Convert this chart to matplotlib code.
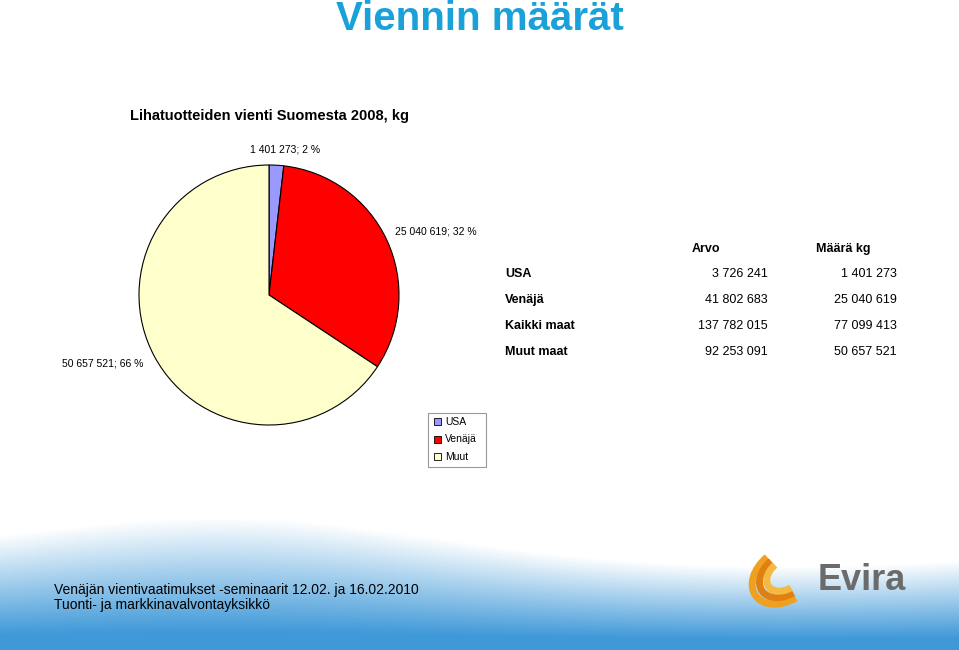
import numpy as np
import matplotlib.pyplot as plt
from matplotlib.patches import Rectangle, Arc

W, H = 959, 650
countries = ["USA", "Venäjä", "Muut"]
kg_values = [1401273, 25040619, 50657521]
pie_labels = ["1 401 273; 2 %", "25 040 619; 32 %", "50 657 521; 66 %"]
colors = ["#9999ff", "#ff0000", "#ffffcc"]

table_rows = ["USA", "Venäjä", "Kaikki maat", "Muut maat"]
arvo = ["3 726 241", "41 802 683", "137 782 015", "92 253 091"]
maara = ["1 401 273", "25 040 619", "77 099 413", "50 657 521"]

fig = plt.figure(figsize=(W / 100, H / 100), dpi=100)
bg = fig.add_axes([0, 0, 1, 1])
bg.set_xlim(0, W)
bg.set_ylim(H, 0)
bg.axis("off")

# bottom gradient band
ys = np.linspace(0, 1, 130)[:, None]
xs = np.linspace(0, 1, 959)[None, :]
t = np.clip(ys * 1.3 - 0.15 + 0.25 * np.sin(xs * 6) * (1 - ys) - 0.3 * xs * (1 - ys), 0, 1)
top = np.array([1, 1, 1])
bot = np.array([0.25, 0.6, 0.85])
img = top[None, None, :] * (1 - t[..., None]) + bot[None, None, :] * t[..., None]
bg.imshow(img, extent=[0, W, 650, 520], aspect="auto", zorder=0)

def tx(x, y, s, **kw):
    bg.text(x, y, s, fontfamily="Liberation Sans", **kw)

tx(480, 19, "Viennin määrät", fontsize=29, fontweight="bold", color="#1ba1d9",
   ha="center", va="center")
tx(270, 116, "Lihatuotteiden vienti Suomesta 2008, kg", fontsize=10.5, fontweight="bold",
   ha="center", va="center")
tx(285, 149, pie_labels[0], fontsize=7.5, ha="center", va="center")
tx(436, 231, pie_labels[1], fontsize=7.5, ha="center", va="center")
tx(103, 364, pie_labels[2], fontsize=7.5, ha="center", va="center")

# table
tx(706, 249, "Arvo", fontsize=9, fontweight="bold", ha="center", va="center")
tx(843, 249, "Määrä kg", fontsize=9, fontweight="bold", ha="center", va="center")
for i, r in enumerate(table_rows):
    y = 274 + i * 26
    tx(505, y, r, fontsize=9, fontweight="bold", ha="left", va="center")
    tx(768, y, arvo[i], fontsize=9, ha="right", va="center")
    tx(897, y, maara[i], fontsize=9, ha="right", va="center")

# legend
bg.add_patch(Rectangle((428, 413), 58, 54, fill=False, edgecolor="#999999", lw=0.8))
for i, c in enumerate(countries):
    y = 422 + i * 17.5
    bg.add_patch(Rectangle((434, y - 4), 7, 7, facecolor=colors[i], edgecolor="black", lw=0.6))
    tx(445, y, c, fontsize=7.5, ha="left", va="center")

# footer
tx(54, 590, "Venäjän vientivaatimukset -seminaarit 12.02. ja 16.02.2010", fontsize=10,
   ha="left", va="center")
tx(54, 605, "Tuonti- ja markkinavalvontayksikkö", fontsize=10, ha="left", va="center")

# Evira logo approximation
for k, rr in enumerate([36, 28, 20]):
    bg.add_patch(Arc((785, 575), rr * 2, rr * 1.4, theta1=100, theta2=260, angle=-35,
                     color=["#f0a020", "#e08010", "#f5b840"][k], lw=5))
tx(818, 580, "Evira", fontsize=26, color="#6b6b6b", fontweight="bold", ha="left", va="center")

# pie
cx, cy, r = 269, 295, 130
pax = fig.add_axes([(cx - r) / W, (H - cy - r) / H, 2 * r / W, 2 * r / H])
pax.pie(kg_values, colors=colors, startangle=90, counterclock=False,
        wedgeprops=dict(edgecolor="black", linewidth=0.8))
pax.set_aspect("auto")
pax.set_xlim(-1, 1)
pax.set_ylim(-1, 1)

fig.savefig("out.png", dpi=100)
